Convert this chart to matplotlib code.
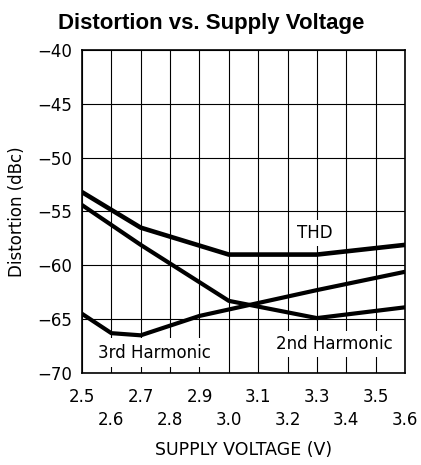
import matplotlib
matplotlib.use("Agg")
import matplotlib.pyplot as plt
import numpy as np

# Data
volt_thd = [2.5, 2.7, 3.0, 3.3, 3.6]
thd = [-53.2, -56.5, -59.0, -59.0, -58.1]

volt_h2 = [2.5, 2.7, 3.0, 3.3, 3.6]
h2 = [-54.4, -58.1, -63.3, -64.9, -63.9]

volt_h3 = [2.5, 2.6, 2.7, 2.9, 3.0, 3.3, 3.6]
h3 = [-64.5, -66.3, -66.5, -64.7, -64.1, -62.3, -60.6]

x_ticks = [2.5, 2.6, 2.7, 2.8, 2.9, 3.0, 3.1, 3.2, 3.3, 3.4, 3.5, 3.6]
y_ticks = [-70, -65, -60, -55, -50, -45, -40]

title = "Distortion vs. Supply Voltage"
xlabel = "SUPPLY VOLTAGE (V)"
ylabel = "Distortion (dBc)"

W, H = 421, 465
fig = plt.figure(figsize=(W / 100, H / 100), dpi=100)
left, right, top, bottom = 82, 405, 50, 373
ax = fig.add_axes([left / W, 1 - bottom / H, (right - left) / W, (bottom - top) / H])

font = "DejaVu Sans"
fs = 12

ax.set_xlim(2.5, 3.6)
ax.set_ylim(-70, -40)
ax.set_xticks(x_ticks)
ax.set_xticklabels([f"{v:.1f}" if i % 2 == 0 else f"\n{v:.1f}" for i, v in enumerate(x_ticks)],
                   fontfamily=font, fontsize=fs, linespacing=1.35)
ax.set_yticks(y_ticks)
ax.set_yticklabels([f"\u2212{abs(v)}" for v in y_ticks], fontfamily=font, fontsize=fs)
ax.tick_params(axis="both", length=0)
ax.tick_params(axis="x", pad=11)
ax.tick_params(axis="y", pad=7)

ax.grid(True, color="black", linewidth=0.8, zorder=1)
ax.set_axisbelow(True)
for s in ax.spines.values():
    s.set_linewidth(1.2)
    s.set_zorder(5)

ax.plot(volt_thd, thd, color="black", lw=3.3, solid_joinstyle="miter", zorder=3)
ax.plot(volt_h2, h2, color="black", lw=3.0, zorder=3)
ax.plot(volt_h3, h3, color="black", lw=3.0, zorder=3)

bb = dict(facecolor="white", edgecolor="none", pad=3)
ax.text(3.294, -57.0, "THD", fontfamily=font, fontsize=fs, ha="center", va="center", bbox=bb, zorder=4)
ax.text(2.747, -68.1, "3rd Harmonic", fontfamily=font, fontsize=fs, ha="center", va="center",
        bbox=dict(facecolor="white", edgecolor="none", pad=4), zorder=4)
ax.text(3.358, -67.3, "2nd Harmonic", fontfamily=font, fontsize=fs, ha="center", va="center", bbox=bb, zorder=4)

fig.text((left + right) / 2 / W, 1 - 450 / H, xlabel, fontfamily=font, fontsize=12.5,
         ha="center", va="center")
ax.set_ylabel(ylabel, fontfamily=font, fontsize=fs, labelpad=8)

fig.text(211 / W, 1 - 29 / H, title, fontfamily="Liberation Sans", fontweight="bold",
         fontsize=16, ha="center", va="baseline")

fig.savefig("out.png", dpi=100)
